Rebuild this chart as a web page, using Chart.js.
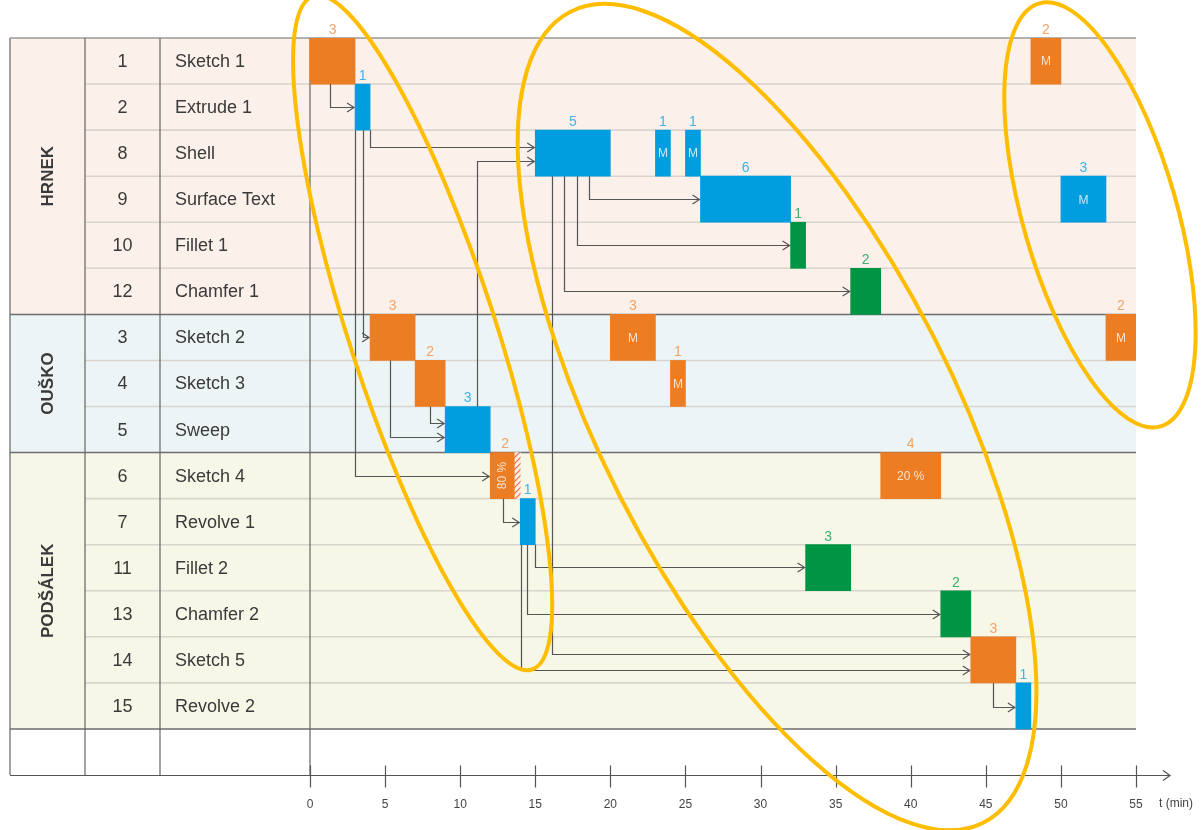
<!DOCTYPE html>
<html>
<head>
<meta charset="utf-8">
<script src="https://cdn.jsdelivr.net/npm/chart.js@4.4.1/dist/chart.umd.min.js"></script>
<style>
  html, body { margin: 0; padding: 0; background: #fff; }
  #wrap { width: 1203px; height: 830px; }
</style>
</head>
<body>
<div id="wrap"><canvas id="gantt"></canvas></div>
<script>
// table rows, top to bottom
const taskIds = [1, 2, 8, 9, 10, 12, 3, 4, 5, 6, 7, 11, 13, 14, 15];
const taskNames = ["Sketch 1", "Extrude 1", "Shell", "Surface Text", "Fillet 1", "Chamfer 1",
  "Sketch 2", "Sketch 3", "Sweep", "Sketch 4", "Revolve 1", "Fillet 2", "Chamfer 2", "Sketch 5", "Revolve 2"];
const groupNames = ["HRNEK", "OUŠKO", "PODŠÁLEK"];
const groupFirstRow = [0, 6, 9];
const groupLastRow = [5, 8, 14];

// work blocks (minutes)
const blockRow =    [0, 0, 1, 2, 2, 2, 3, 3, 4, 5, 6, 6, 6, 7, 7, 8, 9, 9, 10, 11, 12, 13, 14];
const blockStart =  [0, 48, 3, 15, 23, 25, 26, 50, 32, 36, 4, 20, 53, 7, 24, 9, 12, 38, 14, 33, 42, 44, 47];
const blockLength = [3, 2, 1, 5, 1, 1, 6, 3, 1, 2, 3, 3, 2, 2, 1, 3, 2, 4, 1, 3, 2, 3, 1];
const blockKind =   ["o", "o", "b", "b", "b", "b", "b", "b", "g", "g", "o", "o", "o", "o", "o", "b", "o", "o", "b", "g", "g", "o", "b"];
const blockNote =   ["", "M", "", "", "M", "M", "", "M", "", "", "", "M", "M", "", "M", "", "80 %", "20 %", "", "", "", "", ""];
const blockDone =   [1, 1, 1, 1, 1, 1, 1, 1, 1, 1, 1, 1, 1, 1, 1, 1, 0.8, 1, 1, 1, 1, 1, 1];

// dependencies: source row, drop position (min), target row, level inside target row, arrow end (min)
const linkFromRow = [0, 1, 8, 1, 1, 6, 7, 9, 10, 10, 10, 2, 2, 2, 2, 13];
const linkDropAt =  [1.3, 4.0, 11.1, 3.5, 3.0, 5.3, 8.0, 12.85, 14.95, 14.45, 14.05, 16.1, 18.6, 17.8, 16.9, 45.5];
const linkToRow =   [1, 2, 2, 6, 9, 8, 8, 10, 11, 12, 13, 13, 3, 4, 5, 14];
const linkLevel =   [0.5, 0.37, 0.67, 0.5, 0.5, 0.67, 0.35, 0.5, 0.48, 0.5, 0.72, 0.37, 0.5, 0.5, 0.5, 0.52];
const linkEndAt =   [3, 15, 15, 4, 12, 9, 9, 14, 33, 42, 44, 44, 26, 32, 36, 47];

// highlighted phases (centre in minutes / rows)
const ringCentreT = [7.5, 31.1, 52.6];
const ringCentreRow = [6.4, 8.23, 3.84];

const xTicks = [0, 5, 10, 15, 20, 25, 30, 35, 40, 45, 50, 55];
const rowLabels = taskNames.concat([" "]);

const kindColor = { o: "#EC7D22", b: "#009EDF", g: "#009544" };
const kindLabel = { o: "#F1A466", b: "#40B3E8", g: "#3FAF6E" };
const ringSize = [[354, 73, 72], [455, 176, 63], [220, 77, 74]];
const font = "'Liberation Sans', Arial, sans-serif";
Chart.defaults.font.family = font;

function hatch() {
  const c = document.createElement("canvas");
  c.width = 6; c.height = 6;
  const g = c.getContext("2d");
  g.fillStyle = "#FBEFE6";
  g.fillRect(0, 0, 6, 6);
  g.strokeStyle = "#EE6A4A";
  g.lineWidth = 1.2;
  g.beginPath();
  g.moveTo(-1, 7); g.lineTo(7, -1);
  g.moveTo(-1, 1); g.lineTo(1, -1);
  g.moveTo(5, 7); g.lineTo(7, 5);
  g.stroke();
  return g.createPattern(c, "repeat");
}

const datasets = ["o", "b", "g"].map(k => ({
  label: k,
  data: blockRow.map((r, i) => i).filter(i => blockKind[i] === k).map(i => ({
    x: [blockStart[i], blockStart[i] + blockLength[i] * blockDone[i]],
    y: rowLabels[blockRow[i]]
  })),
  backgroundColor: kindColor[k]
}));
datasets.push({
  label: "rest",
  data: blockRow.map((r, i) => i).filter(i => blockDone[i] < 1).map(i => ({
    x: [blockStart[i] + blockLength[i] * blockDone[i], blockStart[i] + blockLength[i]],
    y: rowLabels[blockRow[i]]
  })),
  backgroundColor: hatch()
});

function rowGeom(y) {
  const h = y.getPixelForValue(1) - y.getPixelForValue(0);
  return { h, top: i => y.getPixelForValue(0) - h / 2 + i * h };
}

const sheet = {
  id: "sheet",
  beforeDraw(chart) {
    const { ctx, chartArea: a, scales: { x, y } } = chart;
    const { h, top } = rowGeom(y);
    const L = 10, c1 = 85, c2 = 160;
    const bands = ["#FBF0EA", "#EDF4F6", "#F7F7E7"];
    ctx.save();
    groupNames.forEach((g, k) => {
      ctx.fillStyle = bands[k];
      ctx.fillRect(L, top(groupFirstRow[k]), a.right - L, (groupLastRow[k] - groupFirstRow[k] + 1) * h);
    });
    // row lines
    ctx.strokeStyle = "#DAD4CE";
    ctx.lineWidth = 1.6;
    ctx.beginPath();
    for (let i = 1; i < taskNames.length; i++) {
      if (groupFirstRow.includes(i)) continue;
      ctx.moveTo(c1, top(i)); ctx.lineTo(a.right, top(i));
    }
    ctx.stroke();
    ctx.strokeStyle = "#6E6E6E";
    ctx.lineWidth = 1.5;
    ctx.beginPath();
    groupFirstRow.slice(1).concat([taskNames.length]).forEach(i => {
      ctx.moveTo(L, top(i)); ctx.lineTo(a.right, top(i));
    });
    ctx.stroke();
    ctx.strokeStyle = "#9A9A9A";
    ctx.beginPath();
    ctx.moveTo(L, top(0)); ctx.lineTo(a.right, top(0));
    ctx.stroke();
    // columns
    ctx.strokeStyle = "#666";
    ctx.lineWidth = 1.2;
    ctx.beginPath();
    [L, c1, c2, x.getPixelForValue(0)].forEach(cx => {
      ctx.moveTo(cx, top(0)); ctx.lineTo(cx, a.bottom);
    });
    ctx.stroke();
    // text
    ctx.fillStyle = "#3A3A3A";
    ctx.font = "18px " + font;
    ctx.textBaseline = "middle";
    taskNames.forEach((n, i) => {
      const cy = top(i) + h / 2 + 1;
      ctx.textAlign = "center";
      ctx.fillText(String(taskIds[i]), (c1 + c2) / 2, cy);
      ctx.textAlign = "left";
      ctx.fillText(n, c2 + 15, cy);
    });
    ctx.font = "bold 17px " + font;
    ctx.textAlign = "center";
    groupNames.forEach((g, k) => {
      const cy = (top(groupFirstRow[k]) + top(groupLastRow[k] + 1)) / 2;
      ctx.save();
      ctx.translate((L + c1) / 2, cy);
      ctx.rotate(-Math.PI / 2);
      ctx.fillText(g, 0, 1);
      ctx.restore();
    });
    ctx.restore();
  },
  afterDatasetsDraw(chart) {
    const { ctx, chartArea: a, scales: { x, y } } = chart;
    const { h, top } = rowGeom(y);
    ctx.save();
    // dependency arrows
    ctx.strokeStyle = "#555";
    ctx.lineWidth = 1.2;
    linkFromRow.forEach((f, i) => {
      const t = linkToRow[i];
      const sx = Math.round(x.getPixelForValue(linkDropAt[i])) + 0.5;
      const sy = t > f ? top(f + 1) : top(f);
      const ty = Math.round(top(t) + h * linkLevel[i]) + 0.5;
      const ex = x.getPixelForValue(linkEndAt[i]) - 1;
      ctx.beginPath();
      ctx.moveTo(sx, sy); ctx.lineTo(sx, ty); ctx.lineTo(ex, ty);
      ctx.stroke();
      ctx.beginPath();
      ctx.moveTo(ex - 7, ty - 4.5); ctx.lineTo(ex, ty); ctx.lineTo(ex - 7, ty + 4.5);
      ctx.stroke();
    });
    // block labels
    blockRow.forEach((r, i) => {
      const x0 = x.getPixelForValue(blockStart[i]);
      const x1 = x.getPixelForValue(blockStart[i] + blockLength[i]);
      ctx.fillStyle = kindLabel[blockKind[i]];
      ctx.font = "14px " + font;
      ctx.textAlign = "center";
      ctx.textBaseline = "bottom";
      ctx.fillText(String(blockLength[i]), (x0 + x1) / 2, top(r) - 1);
      const note = blockNote[i];
      if (!note) return;
      ctx.fillStyle = "rgba(255,255,255,0.78)";
      ctx.font = "12px " + font;
      ctx.textBaseline = "middle";
      if (blockDone[i] < 1) {
        const xd = x.getPixelForValue(blockStart[i] + blockLength[i] * blockDone[i]);
        ctx.save();
        ctx.translate((x0 + xd) / 2, top(r) + h / 2);
        ctx.rotate(-Math.PI / 2);
        ctx.fillText(note, 0, 0);
        ctx.restore();
      } else {
        ctx.fillText(note, (x0 + x1) / 2, top(r) + h / 2 + 1);
      }
    });
    // time axis
    const ay = Math.round(a.bottom) + 0.5;
    ctx.strokeStyle = "#555";
    ctx.lineWidth = 1.2;
    ctx.beginPath();
    ctx.moveTo(10, ay); ctx.lineTo(1170, ay);
    xTicks.forEach(t => {
      const tx = Math.round(x.getPixelForValue(t)) + 0.5;
      ctx.moveTo(tx, ay - 10); ctx.lineTo(tx, ay + 12);
    });
    ctx.stroke();
    ctx.beginPath();
    ctx.moveTo(1163, ay - 5); ctx.lineTo(1170, ay); ctx.lineTo(1163, ay + 5);
    ctx.stroke();
    ctx.fillStyle = "#444";
    ctx.font = "12px " + font;
    ctx.textAlign = "left";
    ctx.textBaseline = "middle";
    ctx.fillText("t (min)", 1159, ay + 28);
    // phase rings
    ctx.strokeStyle = "#FFBD00";
    ctx.lineWidth = 4;
    ringCentreT.forEach((t, k) => {
      const [ra, rb, deg] = ringSize[k];
      ctx.beginPath();
      ctx.ellipse(x.getPixelForValue(t), top(0) + ringCentreRow[k] * h, ra, rb, deg * Math.PI / 180, 0, Math.PI * 2);
      ctx.stroke();
    });
    ctx.restore();
  }
};

new Chart(document.getElementById("gantt"), {
  type: "bar",
  data: { labels: rowLabels, datasets: datasets },
  options: {
    indexAxis: "y",
    responsive: true,
    maintainAspectRatio: false,
    animation: false,
    layout: { padding: { left: 310, right: 67, top: 38, bottom: 15 } },
    datasets: { bar: { grouped: false, barPercentage: 1, categoryPercentage: 1, borderWidth: 0 } },
    scales: {
      x: {
        type: "linear", min: 0, max: 55,
        grid: { display: false }, border: { display: false },
        ticks: { stepSize: 5, padding: 14, color: "#444", font: { size: 12 }, maxRotation: 0 },
        afterFit: s => { s.height = 40; }
      },
      y: { type: "category", display: false }
    },
    plugins: { legend: { display: false }, tooltip: { enabled: false } }
  },
  plugins: [sheet]
});
</script>
</body>
</html>
